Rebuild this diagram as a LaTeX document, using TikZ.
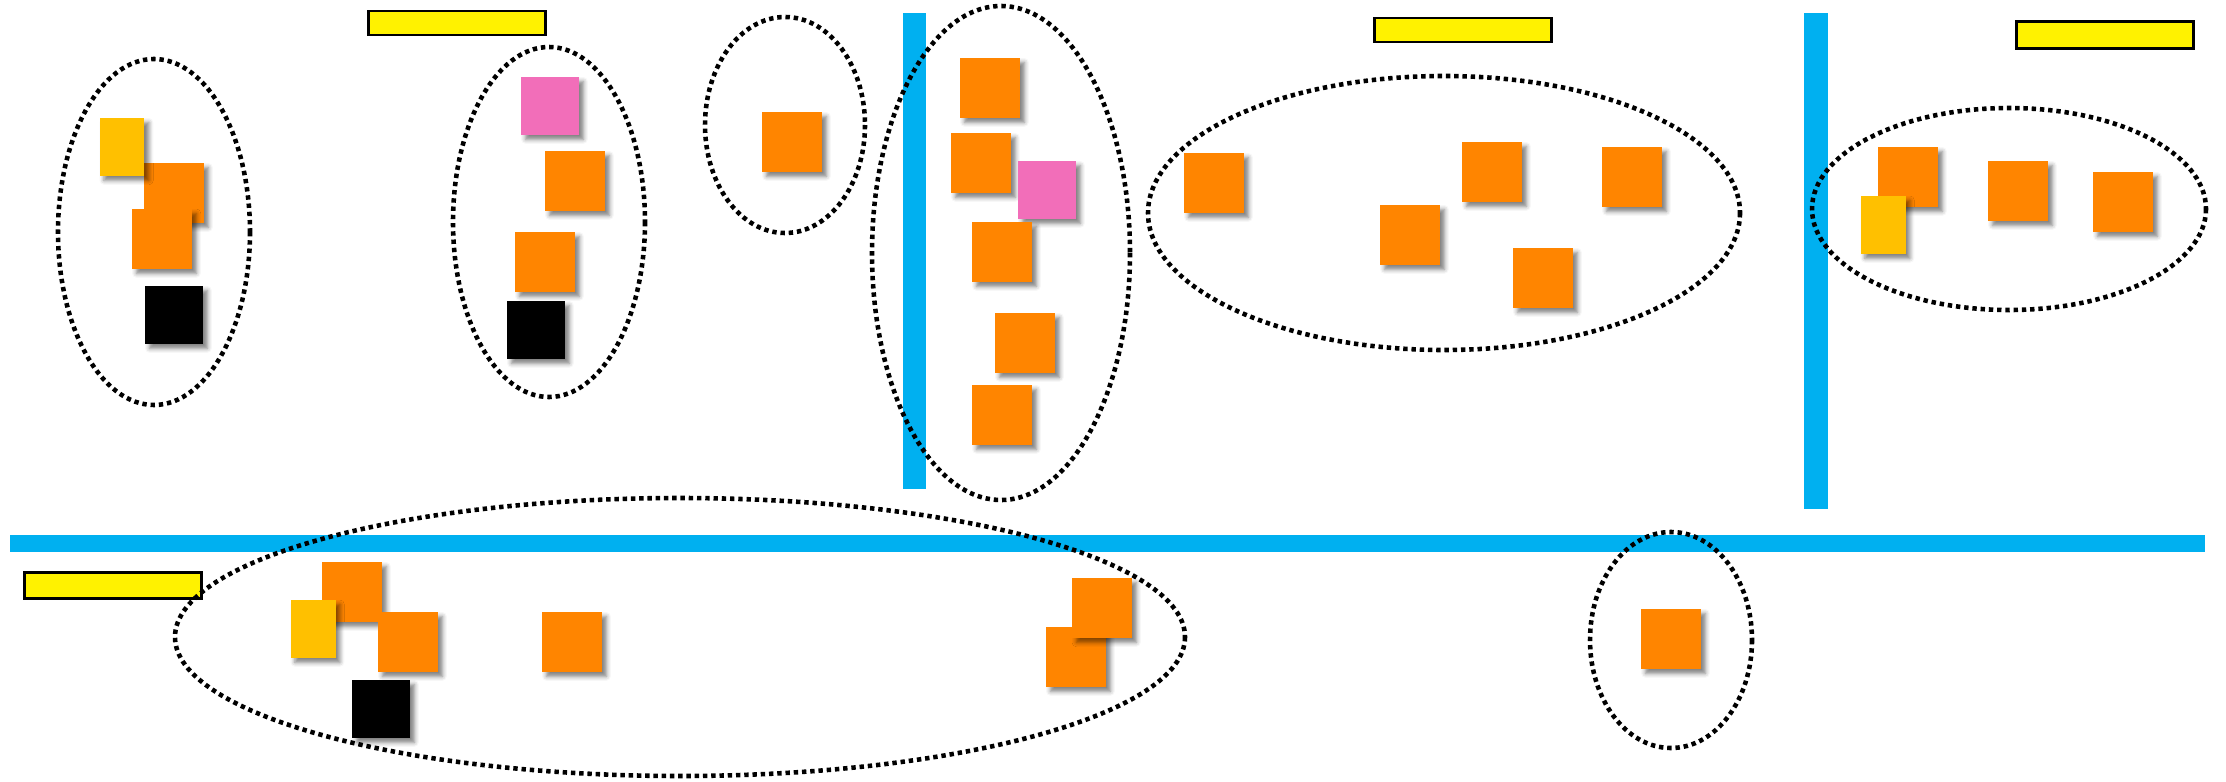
\documentclass[tikz,border=0pt]{standalone}
\usepackage{tikz}
\usetikzlibrary{shadows.blur}

\definecolor{stickyorange}{HTML}{FF8500}
\definecolor{stickygold}{HTML}{FFC000}
\definecolor{stickypink}{HTML}{F26EB9}
\definecolor{dividerblue}{HTML}{00B0F0}

\begin{document}
\begin{tikzpicture}[x=0.02cm, y=-0.02cm,
  note/.style={inner sep=0pt, minimum width=1.2cm, minimum height=1.2cm, fill=stickyorange,
    blur shadow={shadow xshift=2.5pt, shadow yshift=-2.5pt, shadow blur radius=2.5pt, shadow opacity=50}},
  gold/.style={note, fill=stickygold, minimum width=0.9cm, minimum height=1.16cm},
  pink/.style={note, fill=stickypink, minimum width=1.16cm, minimum height=1.16cm},
  dark/.style={note, fill=black, minimum width=1.16cm, minimum height=1.16cm},
  header/.style={draw=black, line width=1.7pt, fill=yellow, inner sep=0pt, minimum width=3.55cm, minimum height=0.48cm},
  divider/.style={fill=dividerblue},
  cluster/.style={draw=black, line width=2.6pt, dash pattern=on 2.5pt off 2.2pt}]

  \useasboundingbox (0,0) rectangle (2226,781);

  % dividers
  \fill[divider] (903,13) rectangle (926,489);
  \fill[divider] (1804,13) rectangle (1828,509);
  \fill[divider] (10,535) rectangle (2205,552);

  % headers
  \node[header] (h1) at (457,23) {};
  \node[header] (h2) at (1463,30) {};
  \node[header, minimum height=0.54cm] (h3) at (2105,35) {};
  \node[header, minimum height=0.52cm] (h4) at (113,585) {};

  % first column
  \node[note] (a1) at (174,193) {};
  \node[gold] (a2) at (122,147) {};
  \node[note] (a3) at (162,239) {};
  \node[dark] (a4) at (174,315) {};

  % second column
  \node[pink] (b1) at (550,106) {};
  \node[note] (b2) at (575,181) {};
  \node[note] (b3) at (545,262) {};
  \node[dark] (b4) at (536,330) {};

  \node[note] (c1) at (792,142) {};

  % next to the first divider
  \node[note] (d1) at (990,88) {};
  \node[note] (d2) at (981,163) {};
  \node[pink] (d3) at (1047,190) {};
  \node[note] (d4) at (1002,252) {};
  \node[note] (d5) at (1025,343) {};
  \node[note] (d6) at (1002,415) {};

  % wide group
  \node[note] (e1) at (1214,183) {};
  \node[note] (e2) at (1492,172) {};
  \node[note] (e3) at (1410,235) {};
  \node[note] (e4) at (1543,278) {};
  \node[note] (e5) at (1632,177) {};

  % right of the second divider
  \node[note] (f1) at (1908,177) {};
  \node[gold] (f2) at (1883,225) {};
  \node[note] (f3) at (2018,191) {};
  \node[note] (f4) at (2123,202) {};

  % lower row
  \node[note] (g1) at (352,592) {};
  \node[gold] (g2) at (313,629) {};
  \node[note] (g3) at (408,642) {};
  \node[dark] (g4) at (381,709) {};
  \node[note] (g5) at (572,642) {};
  \node[note] (g6) at (1076,657) {};
  \node[note] (g7) at (1102,608) {};

  \node[note] (k1) at (1671,639) {};

  % dotted groupings
  \draw[cluster] (154,232) ellipse [x radius=96, y radius=173];
  \draw[cluster] (549,222) ellipse [x radius=96, y radius=175];
  \draw[cluster] (785,125) ellipse [x radius=80, y radius=108];
  \draw[cluster] (1001,253) ellipse [x radius=129, y radius=247];
  \draw[cluster] (1444,213) ellipse [x radius=296, y radius=137];
  \draw[cluster] (2009,209) ellipse [x radius=197, y radius=101];
  \draw[cluster] (680,637) ellipse [x radius=505, y radius=139];
  \draw[cluster] (1671,640) ellipse [x radius=81, y radius=108];

\end{tikzpicture}
\end{document}
